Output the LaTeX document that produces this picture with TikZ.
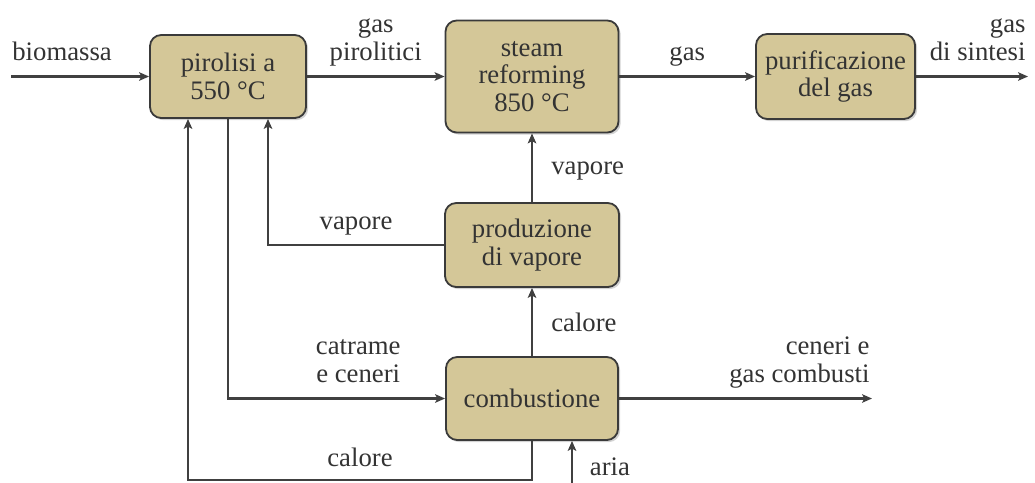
\documentclass[tikz,border=0pt]{standalone}
\usepackage{fontspec}
\setmainfont{Liberation Serif}
\usepackage{xcolor}
\usepackage{tikz}
\usetikzlibrary{arrows.meta,positioning,calc,shadows}
\definecolor{sabbia}{HTML}{D4C798}
\definecolor{bordo}{HTML}{3A3A3A}
\definecolor{grigiolinea}{HTML}{404040}
\definecolor{testo}{HTML}{333333}
\tikzset{
  blocco/.style={draw=bordo,fill=sabbia,rounded corners=8pt,line width=1.3pt,align=center,font=\fontsize{19}{19.8}\selectfont,text=testo,inner sep=2pt,drop shadow={shadow xshift=1.5pt,shadow yshift=-1.5pt,opacity=.35}},
  freccia/.style={-{Stealth[length=7pt,width=6pt,inset=1.5pt]},line width=1.5pt,grigiolinea},
  etichetta/.style={font=\fontsize{19}{19.8}\selectfont,text=testo,align=center,inner sep=1pt,text depth=0pt},
}

\begin{document}
\begin{tikzpicture}[x=0.025cm,y=-0.025cm]
  \useasboundingbox (0,0) rectangle (1035,482);
  \node[blocco,minimum width=3.9cm,minimum height=2.075cm] (pir) at (228,76.5) {pirolisi a\\550 °C};
  \node[blocco,minimum width=4.325cm,minimum height=2.8cm] (steam) at (532,76.5) {steam\\reforming\\850 °C};
  \node[blocco,minimum width=3.975cm,minimum height=2.125cm] (pur) at (835.5,76.5) {purificazione\\del gas};
  \node[blocco,minimum width=4.35cm,minimum height=2.1cm] (prod) at (532,245) {produzione\\di vapore};
  \node[blocco,minimum width=4.3cm,minimum height=2.075cm] (comb) at (532,398.5) {combustione};
  \coordinate (ingresso) at (11,76.5);
  \coordinate (uscita) at (1028,76.5);
  \coordinate (scarico) at (872,398.5);
  \coordinate (aria) at (572,492);
  \draw[freccia] (ingresso) -- (pir) node[etichetta,pos=0.37,above=9.6pt] {biomassa};
  \draw[freccia] (pir) -- (steam) node[etichetta,midway,above=9.6pt] {gas\\pirolitici};
  \draw[freccia] (steam) -- (pur) node[etichetta,midway,above=9.6pt] {gas};
  \draw[freccia] (pur) -- (uscita) node[etichetta,pos=1,above left=9.6pt and 0pt,align=right] {gas\\di sintesi};
  \draw[freccia] (comb) -- (scarico) node[etichetta,pos=1,above left=9.6pt and 0pt,align=right] {ceneri e\\gas combusti};
  \draw[freccia] (prod) -- (steam) node[etichetta,midway,right=12pt] {vapore};
  \draw[freccia] (comb) -- (prod) node[etichetta,midway,right=12pt] {calore};
  \draw[freccia] (prod.west) -| node[etichetta,pos=0.25,above=9.6pt] {vapore} ($(pir.south)+(40,0)$);
  \draw[freccia] (pir.south) |- node[etichetta,pos=0.8,above=9.6pt] {catrame\\e ceneri} (comb.west);
  \draw[freccia] (comb.south) -- ++(0,39) -| node[etichetta,pos=0.25,above=7.5pt] {calore} ($(pir.south)+(-40,0)$);
  \draw[freccia] (aria) node[etichetta,anchor=base west,xshift=11pt,yshift=11.5pt] {aria} -- (aria |- comb.south);
\end{tikzpicture}
\end{document}
